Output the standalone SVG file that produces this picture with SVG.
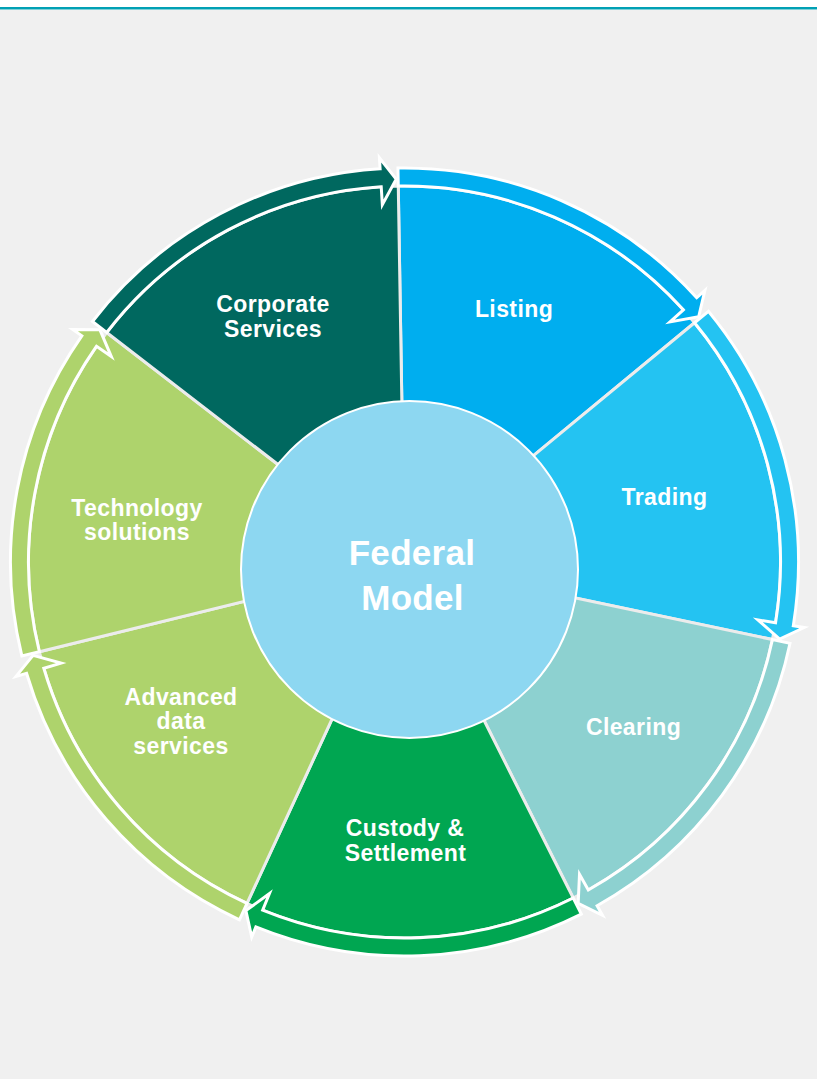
<svg xmlns="http://www.w3.org/2000/svg" xmlns:xlink="http://www.w3.org/1999/xlink" width="817" height="1079" viewBox="0 0 817 1079">
<style>
.wedge{stroke:#ececec;stroke-width:3;stroke-linejoin:round}
.band{stroke:#ffffff;stroke-width:3;stroke-linejoin:miter}
.lbl{font-family:"Liberation Sans",Arial,sans-serif;font-weight:bold;font-size:23px;letter-spacing:0.4px;fill:#ffffff;text-anchor:middle}
.hub{font-family:"Liberation Sans",Arial,sans-serif;font-weight:bold;font-size:35px;letter-spacing:0.3px;fill:#ffffff;text-anchor:middle}
</style>
<defs>
<path id="w" d="M0 0 L376 0 A376 376 0 0 1 234.432 293.968 Z"/>
<path id="b" d="M394 0 A394 394 0 0 1 259.377 296.582 L266.618 304.863 L240.362 298.188 L235.677 269.483 L247.527 283.033 A376 376 0 0 0 376 0 Z"/>
</defs>
<rect x="0" y="0" width="817" height="1079" fill="#f0f0f0"/>
<rect x="0" y="0" width="817" height="7" fill="#ffffff"/>
<rect x="0" y="7" width="817" height="2" fill="#00a0b4"/>
<rect x="0" y="9" width="817" height="1" fill="#80d0d8"/>

<g id="listing">
<use xlink:href="#w" class="wedge" fill="#00aeef" transform="translate(404.5 562) rotate(-90.95)"/>
<text class="lbl" x="514" y="317">Listing</text>
</g>
<g id="trading">
<use xlink:href="#w" class="wedge" fill="#24c3f2" transform="translate(404.5 562) rotate(-39.5214)"/>
<text class="lbl" x="664.5" y="505">Trading</text>
</g>
<g id="clearing">
<use xlink:href="#w" class="wedge" fill="#8dd1d0" transform="translate(404.5 562) rotate(11.9071)"/>
<text class="lbl" x="633.5" y="735">Clearing</text>
</g>
<g id="custody">
<use xlink:href="#w" class="wedge" fill="#00a651" transform="translate(404.5 562) rotate(63.3357)"/>
<text class="lbl" x="405" y="836">Custody &amp;</text>
<text class="lbl" x="405.5" y="861">Settlement</text>
</g>
<g id="advanced">
<use xlink:href="#w" class="wedge" fill="#aed36c" transform="translate(404.5 562) rotate(114.7643)"/>
<text class="lbl" x="181" y="705">Advanced</text>
<text class="lbl" x="181" y="729">data</text>
<text class="lbl" x="181" y="754">services</text>
</g>
<g id="technology">
<use xlink:href="#w" class="wedge" fill="#aed36c" transform="translate(404.5 562) rotate(166.1929)"/>
<text class="lbl" x="137" y="516">Technology</text>
<text class="lbl" x="137" y="540">solutions</text>
</g>
<g id="corporate">
<use xlink:href="#w" class="wedge" fill="#00685f" transform="translate(404.5 562) rotate(217.6214)"/>
<text class="lbl" x="273" y="312">Corporate</text>
<text class="lbl" x="273" y="337">Services</text>
</g>

<g id="connectors">
<use xlink:href="#b" class="band" fill="#00aeef" transform="translate(404.5 562) rotate(-90.95)"/>
<use xlink:href="#b" class="band" fill="#24c3f2" transform="translate(404.5 562) rotate(-39.5214)"/>
<use xlink:href="#b" class="band" fill="#8dd1d0" transform="translate(404.5 562) rotate(11.9071)"/>
<use xlink:href="#b" class="band" fill="#00a651" transform="translate(404.5 562) rotate(63.3357)"/>
<use xlink:href="#b" class="band" fill="#aed36c" transform="translate(404.5 562) rotate(114.7643)"/>
<use xlink:href="#b" class="band" fill="#aed36c" transform="translate(404.5 562) rotate(166.1929)"/>
<use xlink:href="#b" class="band" fill="#00685f" transform="translate(404.5 562) rotate(217.6214)"/>
</g>

<g id="federal-model">
<circle cx="409.5" cy="569.5" r="168.5" fill="#8dd7f1" stroke="#ffffff" stroke-width="2"/>
<text class="hub" x="412" y="565">Federal</text>
<text class="hub" x="412.5" y="610">Model</text>
</g>
</svg>
